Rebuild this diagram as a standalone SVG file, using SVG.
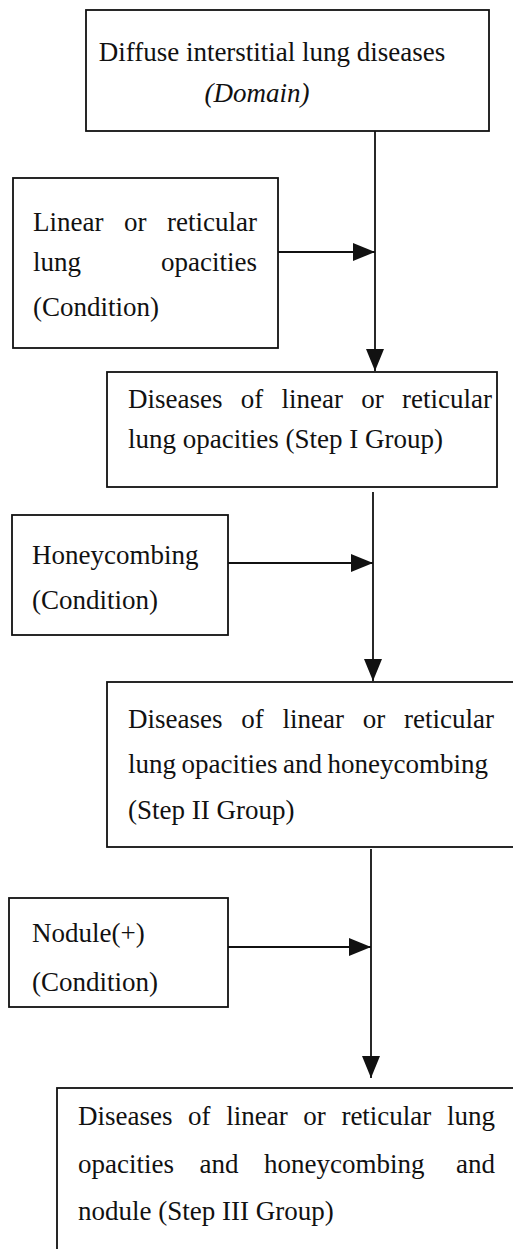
<svg xmlns="http://www.w3.org/2000/svg" width="513" height="1249" viewBox="0 0 513 1249">
<defs>
<style>
.box{fill:#fff;stroke:#111;stroke-width:1.8}
.t{font-family:"Liberation Serif","Times New Roman",serif;font-size:27px;fill:#111}
.it{font-style:italic}
.c{fill:none;stroke:#111;stroke-width:1.8}
</style>
<marker id="ah" markerUnits="userSpaceOnUse" markerWidth="22" markerHeight="18" refX="22" refY="9" orient="auto" viewBox="0 0 22 18">
<path d="M0,0 L22,9 L0,18 z" fill="#111"/>
</marker>
</defs>
<rect width="513" height="1249" fill="#fff"/>
<g id="connectors">
<path class="c" d="M375,131 V371" marker-end="url(#ah)"/>
<path class="c" d="M278,252 H375" marker-end="url(#ah)"/>
<path class="c" d="M373,492 V681" marker-end="url(#ah)"/>
<path class="c" d="M228,563 H373" marker-end="url(#ah)"/>
<path class="c" d="M371,849 V1078" marker-end="url(#ah)"/>
<path class="c" d="M228,947 H371" marker-end="url(#ah)"/>
</g>
<g id="domain">
<rect class="box" x="86" y="10" width="403" height="121"/>
<text class="t" x="272" y="61" text-anchor="middle">Diffuse interstitial lung diseases</text>
<text class="t it" x="257" y="102" text-anchor="middle">(Domain)</text>
</g>
<g id="cond1">
<rect class="box" x="13" y="178" width="265" height="170"/>
<text class="t" y="231"><tspan x="33">Linear</tspan><tspan x="124">or</tspan><tspan x="167">reticular</tspan></text>
<text class="t" y="271"><tspan x="33">lung</tspan><tspan x="161">opacities</tspan></text>
<text class="t" x="33" y="316">(Condition)</text>
</g>
<g id="step1">
<rect class="box" x="107" y="372" width="390" height="115"/>
<text class="t" y="408"><tspan x="128">Diseases</tspan><tspan x="240.8">of</tspan><tspan x="281.5">linear</tspan><tspan x="361.3">or</tspan><tspan x="402">reticular</tspan></text>
<text class="t" x="128" y="448">lung opacities (Step I Group)</text>
</g>
<g id="cond2">
<rect class="box" x="12" y="515" width="216" height="120"/>
<text class="t" x="32" y="564">Honeycombing</text>
<text class="t" x="32" y="609">(Condition)</text>
</g>
<g id="step2">
<rect class="box" x="107" y="682" width="410" height="165"/>
<text class="t" y="728"><tspan x="128">Diseases</tspan><tspan x="241.3">of</tspan><tspan x="282.5">linear</tspan><tspan x="362.8">or</tspan><tspan x="404">reticular</tspan></text>
<text class="t" y="773"><tspan x="128">lung</tspan><tspan x="181.5">opacities</tspan><tspan x="283">and</tspan><tspan x="327.5">honeycombing</tspan></text>
<text class="t" x="128" y="819">(Step II Group)</text>
</g>
<g id="cond3">
<rect class="box" x="9" y="898" width="219" height="109"/>
<text class="t" x="32" y="942">Nodule(+)</text>
<text class="t" x="32" y="991">(Condition)</text>
</g>
<g id="step3">
<rect class="box" x="57" y="1088" width="460" height="180"/>
<text class="t" y="1125"><tspan x="78">Diseases</tspan><tspan x="188.1">of</tspan><tspan x="226.2">linear</tspan><tspan x="303.3">or</tspan><tspan x="341.4">reticular</tspan><tspan x="447">lung</tspan></text>
<text class="t" y="1173"><tspan x="78">opacities</tspan><tspan x="199.5">and</tspan><tspan x="264">honeycombing</tspan><tspan x="456">and</tspan></text>
<text class="t" x="78" y="1220">nodule (Step III Group)</text>
</g>
</svg>
